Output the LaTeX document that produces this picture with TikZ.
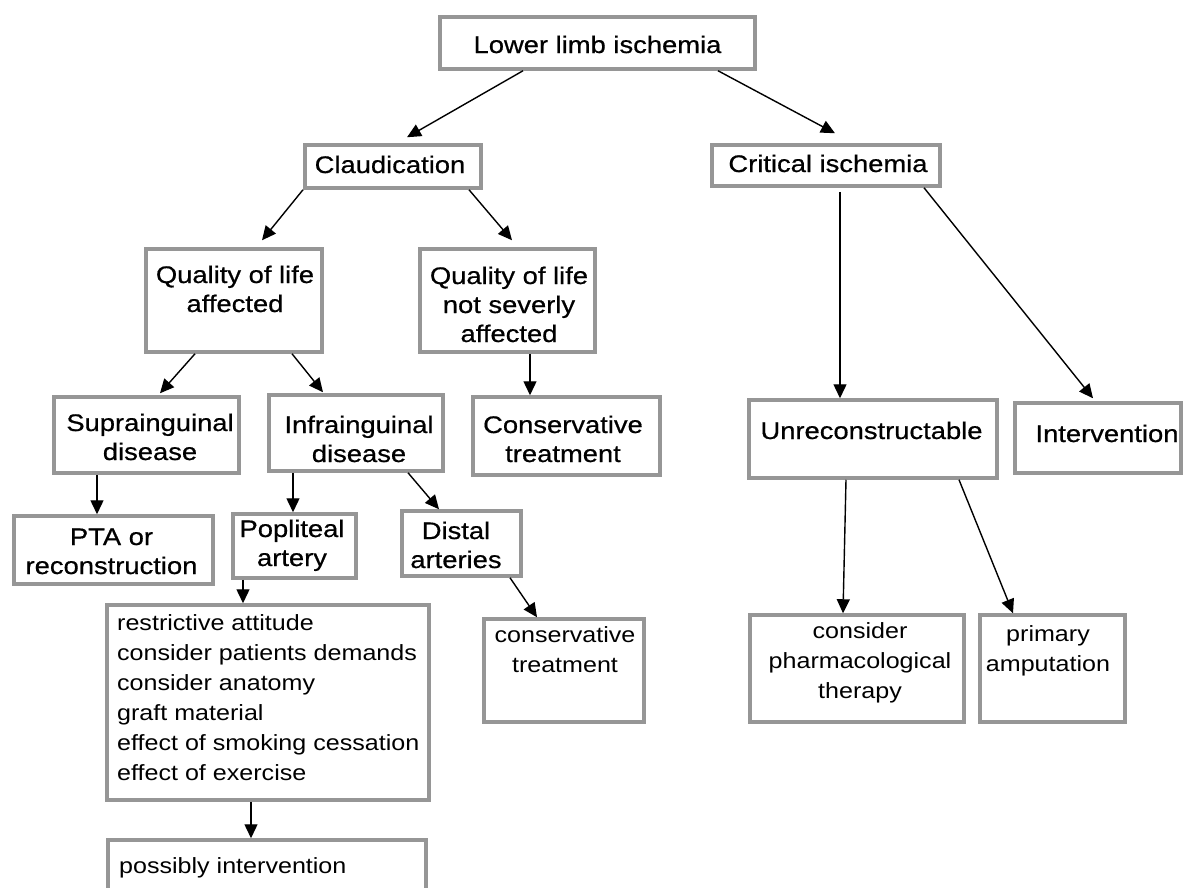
\documentclass[tikz,border=0pt]{standalone}
\usepackage{fontspec}
\setmainfont[FakeStretch=1.14]{Liberation Sans}
\newfontfamily\bigfamily[FakeStretch=1.14,FakeBold=0.6]{Liberation Sans}
\usetikzlibrary{arrows.meta}
\definecolor{boxgray}{RGB}{150,150,150}
\tikzset{
  box/.style={draw=boxgray, line width=3.5pt, fill=white, inner sep=0pt},
  big/.style={font=\bigfamily\fontsize{24pt}{29pt}\selectfont, align=center, inner sep=0pt, anchor=base},
  small/.style={font=\fontsize{22pt}{30pt}\selectfont, align=center, inner sep=0pt, anchor=base},
  arr/.style={line width=1.4pt, -{Triangle[length=14pt,width=13pt]}}
}
\begin{document}
\begin{tikzpicture}[x=1pt,y=-1pt]
\clip (0,0) rectangle (1184,887);
\fill[white] (0,0) rectangle (1184,887);
% boxes
\node[box, minimum width=315pt, minimum height=52pt] (top) at (597.5,43) {};
\node[box, minimum width=176pt, minimum height=43pt] (claud) at (393,166.5) {};
\node[box, minimum width=228pt, minimum height=41pt] (crit) at (826,165.5) {};
\node[box, minimum width=176pt, minimum height=103pt] (qa) at (234,300.5) {};
\node[box, minimum width=175pt, minimum height=103pt] (qn) at (507.5,300.5) {};
\node[box, minimum width=185pt, minimum height=76pt] (supra) at (146.5,435) {};
\node[box, minimum width=174pt, minimum height=76pt] (infra) at (356,433) {};
\node[box, minimum width=187pt, minimum height=78pt] (cons) at (566.5,436) {};
\node[box, minimum width=199pt, minimum height=68pt] (pta) at (113.5,550) {};
\node[box, minimum width=123pt, minimum height=64pt] (pop) at (294.5,546) {};
\node[box, minimum width=119pt, minimum height=65pt] (dist) at (461.5,543.5) {};
\node[box, minimum width=160pt, minimum height=103pt] (cons2) at (564,670.5) {};
\node[box, minimum width=322pt, minimum height=195pt] (restr) at (268,702.5) {};
\node[box, minimum width=318pt, minimum height=50pt] (poss) at (267,865) {};
\node[box, minimum width=248pt, minimum height=78pt] (unrec) at (873,439) {};
\node[box, minimum width=166pt, minimum height=70pt] (interv) at (1098,438) {};
\node[box, minimum width=214pt, minimum height=107pt] (pharm) at (857,668.5) {};
\node[box, minimum width=145pt, minimum height=107pt] (amp) at (1052.5,668.5) {};
% texts (anchor = baseline of the last line)
\node[big] (top-t) at (597.5,53) {Lower limb ischemia};
\node[big] (claud-t) at (390,173) {Claudication};
\node[big] (crit-t) at (828,172) {Critical ischemia};
\node[big] (qa-t) at (235,312) {Quality of life\\affected};
\node[big] (qn-t) at (509,342) {Quality of life\\not severly\\affected};
\node[big] (supra-t) at (150,460) {Suprainguinal\\disease};
\node[big] (infra-t) at (359,462) {Infrainguinal\\disease};
\node[big] (cons-t) at (563,462) {Conservative\\treatment};
\node[big] (pta-t) at (111.5,574) {PTA or\\reconstruction};
\node[big] (pop-t) at (292,566) {Popliteal\\artery};
\node[big] (dist-t) at (456,568) {Distal\\arteries};
\node[small] (cons2-t) at (565,672) {conservative\\treatment};
\node[small, align=left, anchor=base west] (restr-t) at (117,780) {restrictive attitude\\consider patients demands\\consider anatomy\\graft material\\effect of smoking cessation\\effect of exercise};
\node[small, anchor=base west] (poss-t) at (119,873) {possibly intervention};
\node[big] (unrec-t) at (871.5,439) {Unreconstructable};
\node[big] (interv-t) at (1107,442) {Intervention};
\node[small] (pharm-t) at (860,698) {consider\\pharmacological\\therapy};
\node[small] (amp-t) at (1048,671) {primary\\amputation};
% connectors
\draw[arr] ([xshift=-74.5pt]top.south) -- ([xshift=14pt,yshift=6pt]claud.north);
\draw[arr] ([xshift=120.5pt]top.south) -- ([xshift=9pt,yshift=10pt]crit.north);
\draw[arr] ([xshift=-90pt]claud.south) -- ([xshift=28pt,yshift=7pt]qa.north);
\draw[arr] ([xshift=76pt]claud.south) -- ([xshift=4.5pt,yshift=7pt]qn.north);
\draw[arr] ([xshift=-39pt]qa.south) -- ([xshift=13.5pt,yshift=2pt]supra.north);
\draw[arr] ([xshift=58pt]qa.south) -- ([xshift=-33pt,yshift=1pt]infra.north);
\draw[arr] ([xshift=22.5pt]qn.south) -- ([xshift=-36.5pt]cons.north);
\draw[arr] ([xshift=-49.5pt]supra.south) -- ([xshift=-16.5pt]pta.north);
\draw[arr] ([xshift=-63pt]infra.south) -- ([xshift=-1.5pt]pop.north);
\draw[arr] ([xshift=52pt]infra.south) -- ([xshift=-22.5pt]dist.north);
\draw[arr] ([xshift=48.5pt]dist.south) -- ([xshift=-27pt]cons2.north);
\draw[arr] ([xshift=-51.5pt]pop.south) -- ([xshift=-25pt]restr.north);
\draw[arr] ([xshift=-17pt]restr.south) -- ([xshift=-16pt]poss.north);
\draw[arr] ([xshift=14pt,yshift=-4pt]crit.south) -- ([xshift=-33pt]unrec.north);
\draw[arr] ([xshift=98pt]crit.south) -- ([xshift=-5pt,yshift=3pt]interv.north);
\draw[arr] ([xshift=-27pt]unrec.south) -- ([xshift=-14pt]pharm.north);
\draw[arr] ([xshift=86pt]unrec.south) -- ([xshift=-39.5pt]amp.north);
\end{tikzpicture}
\end{document}
